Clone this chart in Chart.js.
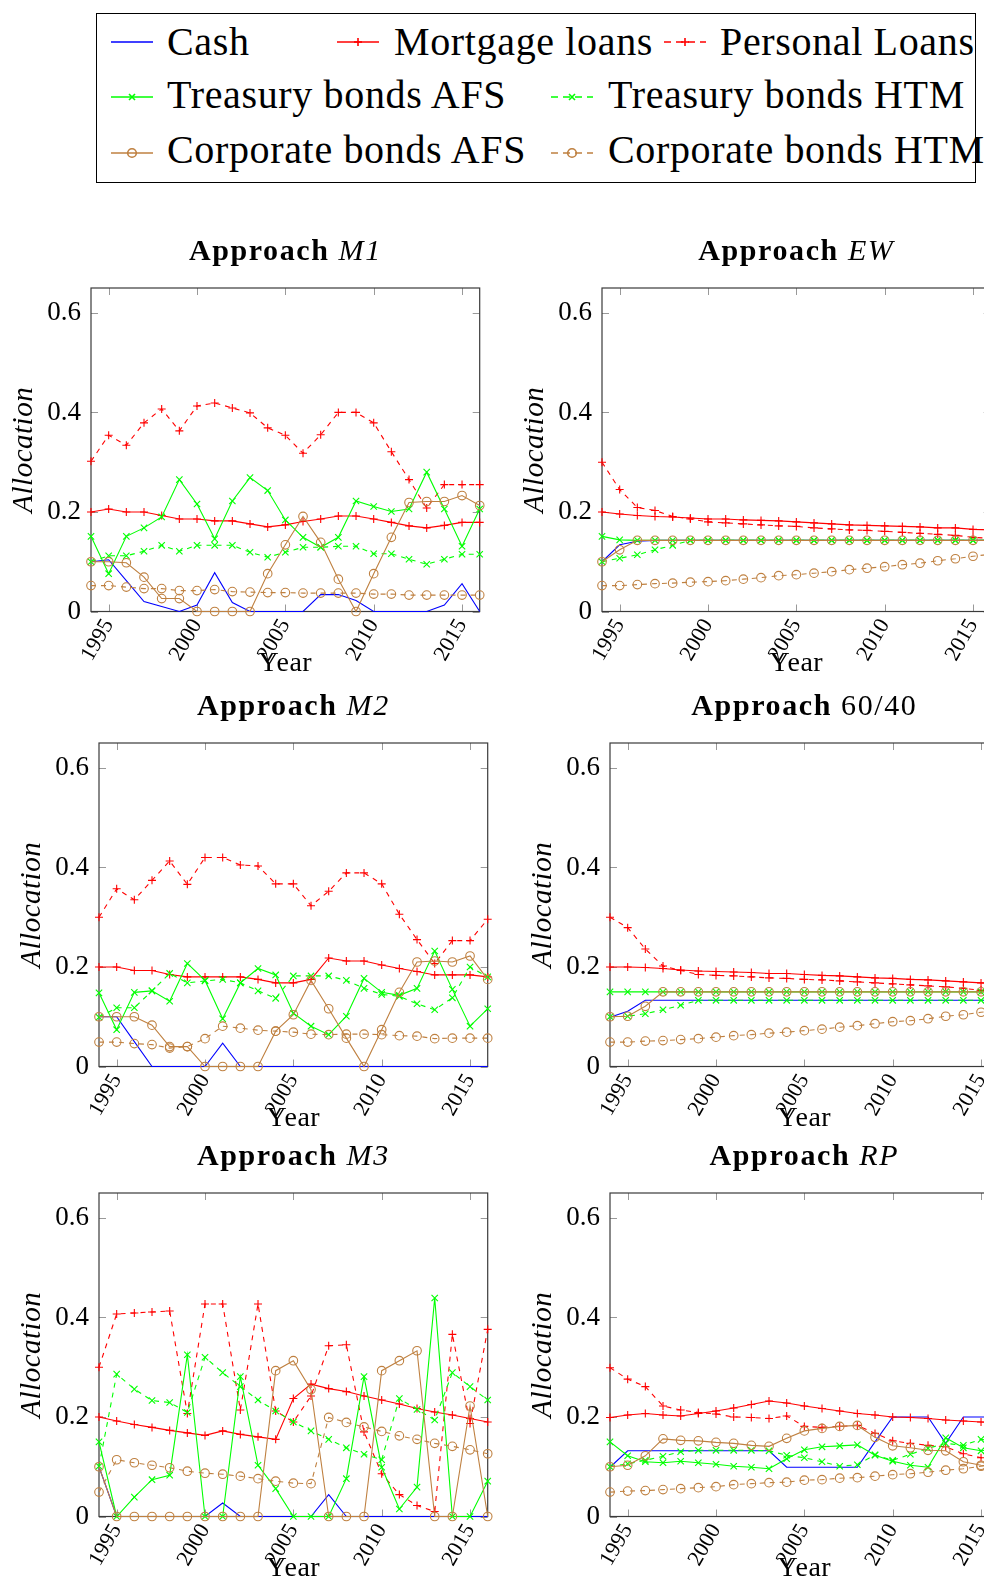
<!DOCTYPE html>
<html><head><meta charset="utf-8">
<script src="https://cdn.jsdelivr.net/npm/chart.js@4.4.0/dist/chart.umd.min.js"></script>
<style>
html,body{margin:0;padding:0;overflow:hidden;background:#fff;}
#page{position:relative;width:984px;height:1578px;overflow:hidden;background:#fff;}
#page canvas{position:absolute;}
.lt{position:absolute;white-space:nowrap;line-height:40px;height:40px;font-family:'Liberation Serif','Times New Roman',serif;font-size:40px;letter-spacing:0.65px;color:#000;}
.ls{position:absolute;}
#lbox{position:absolute;left:96px;top:13px;width:880px;height:170px;border:1.5px solid #000;box-sizing:border-box;}
</style></head>
<body><div id="page"><div id="lbox"></div></div>
<script>
// ---------- data ----------
const years = [1994,1995,1996,1997,1998,1999,2000,2001,2002,2003,2004,2005,2006,2007,2008,2009,2010,2011,2012,2013,2014,2015,2016];
const xTickValues = [1995,2000,2005,2010,2015];
const yTickValues = [0,0.2,0.4,0.6];
const seriesNames = ['Cash','Mortgage loans','Personal Loans','Treasury bonds AFS','Treasury bonds HTM','Corporate bonds AFS','Corporate bonds HTM'];
const panelTitles = ['M1','EW','M2','60/40','M3','RP'];

// Approach M1
const m1Cash      = [0.100,0.104,0.062,0.020,0.010,0.000,0.013,0.078,0.018,0.000,0.000,0.000,0.000,0.034,0.034,0.022,0.000,0.000,0.000,0.000,0.013,0.056,0.000];
const m1Mortgage  = [0.200,0.206,0.200,0.200,0.193,0.186,0.186,0.182,0.182,0.176,0.170,0.174,0.181,0.186,0.192,0.192,0.186,0.179,0.172,0.168,0.173,0.179,0.179];
const m1Personal  = [0.302,0.354,0.334,0.379,0.407,0.363,0.413,0.419,0.409,0.399,0.369,0.354,0.318,0.355,0.400,0.400,0.379,0.321,0.265,0.208,0.255,0.255,0.255];
const m1TreasAFS  = [0.151,0.076,0.151,0.168,0.190,0.265,0.216,0.146,0.222,0.269,0.243,0.184,0.149,0.129,0.149,0.222,0.211,0.201,0.206,0.280,0.206,0.131,0.206];
const m1TreasHTM  = [0.100,0.112,0.112,0.121,0.133,0.121,0.133,0.133,0.133,0.119,0.109,0.119,0.129,0.129,0.131,0.131,0.116,0.116,0.105,0.095,0.105,0.115,0.115];
const m1CorpAFS   = [0.100,0.100,0.098,0.069,0.026,0.026,0.000,0.000,0.000,0.000,0.076,0.134,0.191,0.139,0.065,0.000,0.076,0.149,0.219,0.221,0.221,0.233,0.213];
const m1CorpHTM   = [0.052,0.052,0.049,0.046,0.046,0.042,0.042,0.044,0.040,0.039,0.038,0.038,0.037,0.037,0.037,0.037,0.035,0.035,0.033,0.033,0.033,0.033,0.033];

// Approach EW
const ewCash      = [0.100,0.134,0.141,0.143,0.143,0.143,0.143,0.143,0.143,0.143,0.143,0.143,0.143,0.143,0.143,0.143,0.143,0.143,0.143,0.143,0.143,0.143,0.143];
const ewMortgage  = [0.200,0.196,0.193,0.191,0.190,0.188,0.186,0.186,0.184,0.183,0.182,0.180,0.178,0.176,0.174,0.173,0.172,0.171,0.170,0.168,0.168,0.165,0.164];
const ewPersonal  = [0.300,0.245,0.209,0.203,0.191,0.186,0.180,0.178,0.176,0.174,0.172,0.171,0.168,0.166,0.164,0.163,0.161,0.159,0.157,0.155,0.153,0.149,0.147];
const ewTreasAFS  = [0.151,0.144,0.143,0.143,0.143,0.143,0.143,0.143,0.143,0.143,0.143,0.143,0.143,0.143,0.143,0.143,0.143,0.143,0.143,0.143,0.143,0.143,0.143];
const ewTreasHTM  = [0.100,0.107,0.114,0.124,0.133,0.143,0.143,0.143,0.143,0.143,0.143,0.143,0.143,0.143,0.143,0.143,0.143,0.143,0.143,0.143,0.143,0.143,0.143];
const ewCorpAFS   = [0.100,0.124,0.143,0.143,0.143,0.143,0.143,0.143,0.143,0.143,0.143,0.143,0.143,0.143,0.143,0.143,0.143,0.143,0.143,0.143,0.143,0.143,0.143];
const ewCorpHTM   = [0.052,0.052,0.054,0.056,0.057,0.059,0.060,0.062,0.065,0.068,0.072,0.074,0.077,0.080,0.084,0.087,0.090,0.094,0.097,0.102,0.106,0.111,0.115];

// Approach M2
const m2Cash      = [0.100,0.100,0.050,0.000,0.000,0.000,0.000,0.047,0.000,0.000,0.000,0.000,0.000,0.000,0.000,0.000,0.000,0.000,0.000,0.000,0.000,0.000,0.000];
const m2Mortgage  = [0.200,0.200,0.193,0.193,0.185,0.180,0.180,0.180,0.180,0.175,0.168,0.168,0.175,0.218,0.212,0.212,0.204,0.197,0.191,0.184,0.184,0.184,0.180];
const m2Personal  = [0.300,0.357,0.335,0.374,0.413,0.366,0.420,0.420,0.405,0.403,0.367,0.367,0.323,0.352,0.389,0.389,0.367,0.306,0.255,0.207,0.253,0.253,0.296];
const m2TreasAFS  = [0.148,0.074,0.149,0.152,0.131,0.207,0.173,0.096,0.168,0.197,0.184,0.107,0.081,0.064,0.101,0.177,0.149,0.143,0.157,0.232,0.155,0.081,0.116];
const m2TreasHTM  = [0.099,0.118,0.118,0.152,0.187,0.168,0.172,0.175,0.168,0.152,0.137,0.182,0.182,0.182,0.173,0.157,0.145,0.141,0.126,0.114,0.138,0.200,0.180];
const m2CorpAFS   = [0.100,0.100,0.100,0.083,0.040,0.040,0.000,0.000,0.000,0.000,0.071,0.104,0.173,0.116,0.057,0.000,0.074,0.149,0.210,0.212,0.210,0.222,0.175];
const m2CorpHTM   = [0.049,0.049,0.046,0.044,0.037,0.040,0.056,0.081,0.077,0.073,0.071,0.069,0.065,0.064,0.065,0.065,0.064,0.062,0.061,0.056,0.057,0.057,0.057];

// Approach 60/40
const s64Cash     = [0.099,0.111,0.133,0.133,0.133,0.133,0.133,0.133,0.133,0.133,0.133,0.133,0.133,0.133,0.133,0.133,0.133,0.133,0.133,0.133,0.133,0.133,0.133];
const s64Mortgage = [0.200,0.200,0.199,0.197,0.194,0.192,0.191,0.190,0.189,0.187,0.187,0.185,0.183,0.182,0.180,0.178,0.177,0.175,0.174,0.172,0.170,0.168,0.166];
const s64Personal = [0.300,0.279,0.236,0.202,0.193,0.185,0.183,0.182,0.180,0.178,0.177,0.175,0.174,0.172,0.170,0.168,0.166,0.164,0.162,0.160,0.157,0.153,0.150];
const s64TreasAFS = [0.150,0.150,0.150,0.150,0.150,0.150,0.150,0.150,0.150,0.150,0.150,0.150,0.150,0.150,0.150,0.150,0.150,0.150,0.150,0.150,0.150,0.150,0.150];
const s64TreasHTM = [0.100,0.101,0.106,0.114,0.123,0.133,0.133,0.133,0.133,0.133,0.133,0.133,0.133,0.133,0.133,0.133,0.133,0.133,0.133,0.133,0.133,0.133,0.133];
const s64CorpAFS  = [0.100,0.101,0.121,0.150,0.150,0.150,0.150,0.150,0.150,0.150,0.150,0.150,0.150,0.150,0.150,0.150,0.150,0.150,0.150,0.150,0.150,0.150,0.150];
const s64CorpHTM  = [0.049,0.049,0.051,0.052,0.054,0.056,0.059,0.062,0.064,0.067,0.069,0.072,0.075,0.079,0.082,0.086,0.090,0.092,0.096,0.101,0.104,0.109,0.113];

// Approach M3
const m3Cash      = [0.100,0.000,0.000,0.000,0.000,0.000,0.000,0.027,0.000,0.000,0.000,0.000,0.000,0.044,0.000,0.000,0.000,0.000,0.000,0.000,0.000,0.000,0.000];
const m3Mortgage  = [0.200,0.192,0.185,0.179,0.173,0.168,0.163,0.172,0.165,0.160,0.155,0.237,0.266,0.257,0.251,0.242,0.234,0.226,0.217,0.210,0.204,0.197,0.190];
const m3Personal  = [0.300,0.407,0.409,0.411,0.413,0.207,0.427,0.427,0.214,0.427,0.212,0.190,0.242,0.343,0.345,0.170,0.086,0.044,0.022,0.010,0.366,0.187,0.376];
const m3TreasAFS  = [0.150,0.000,0.039,0.074,0.083,0.325,0.000,0.000,0.281,0.103,0.056,0.000,0.000,0.000,0.076,0.281,0.099,0.015,0.059,0.439,0.000,0.000,0.071];
const m3TreasHTM  = [0.101,0.286,0.256,0.233,0.229,0.209,0.320,0.289,0.261,0.234,0.212,0.190,0.172,0.155,0.138,0.125,0.114,0.237,0.215,0.194,0.289,0.261,0.234];
const m3CorpAFS   = [0.100,0.000,0.000,0.000,0.000,0.000,0.000,0.000,0.000,0.000,0.293,0.313,0.255,0.000,0.000,0.000,0.293,0.313,0.333,0.000,0.000,0.222,0.000];
const m3CorpHTM   = [0.049,0.114,0.108,0.103,0.098,0.091,0.087,0.085,0.081,0.076,0.071,0.067,0.066,0.199,0.189,0.180,0.171,0.162,0.155,0.147,0.141,0.134,0.126];

// Approach RP
const rpCash      = [0.099,0.132,0.132,0.132,0.132,0.132,0.132,0.132,0.132,0.132,0.099,0.099,0.099,0.099,0.099,0.150,0.200,0.200,0.200,0.147,0.200,0.200,0.200];
const rpMortgage  = [0.199,0.204,0.207,0.204,0.202,0.207,0.212,0.218,0.225,0.232,0.228,0.222,0.217,0.212,0.207,0.204,0.200,0.199,0.197,0.194,0.192,0.190,0.188];
const rpPersonal  = [0.299,0.276,0.261,0.222,0.214,0.209,0.206,0.200,0.199,0.197,0.202,0.181,0.179,0.181,0.183,0.167,0.152,0.147,0.143,0.140,0.126,0.118,0.115];
const rpTreasAFS  = [0.150,0.122,0.110,0.108,0.111,0.108,0.105,0.101,0.099,0.096,0.116,0.134,0.140,0.142,0.144,0.123,0.111,0.103,0.099,0.158,0.138,0.132,0.135];
const rpTreasHTM  = [0.100,0.106,0.113,0.121,0.130,0.133,0.133,0.133,0.133,0.132,0.123,0.118,0.110,0.101,0.104,0.124,0.113,0.125,0.137,0.147,0.143,0.155,0.150];
const rpCorpAFS   = [0.100,0.103,0.122,0.156,0.153,0.152,0.149,0.147,0.143,0.141,0.157,0.172,0.177,0.181,0.183,0.159,0.142,0.138,0.133,0.132,0.110,0.103,0.100];
const rpCorpHTM   = [0.049,0.051,0.052,0.054,0.056,0.058,0.060,0.064,0.066,0.068,0.069,0.073,0.074,0.077,0.078,0.081,0.084,0.086,0.089,0.093,0.096,0.101,0.104];

// ---------- styles & layout ----------
const FONT = "'Liberation Serif','Times New Roman',serif";
Chart.defaults.font.family = FONT;
Chart.defaults.color = '#000';

const STY = [
  {color:'#0000ff', dash:[],    point:false,      radius:0},
  {color:'#ff0000', dash:[],    point:'cross',    radius:4},
  {color:'#ff0000', dash:[5,5], point:'cross',    radius:4},
  {color:'#00ff00', dash:[],    point:'crossRot', radius:4.5},
  {color:'#00ff00', dash:[5,5], point:'crossRot', radius:4.5},
  {color:'#bf8040', dash:[],    point:'circle',   radius:4.3},
  {color:'#bf8040', dash:[5,5], point:'circle',   radius:4.3}
];

const panels = [
  {sub:panelTitles[0], italic:true,  left:91,  top:288, vals:[m1Cash,m1Mortgage,m1Personal,m1TreasAFS,m1TreasHTM,m1CorpAFS,m1CorpHTM]},
  {sub:panelTitles[1], italic:true,  left:602, top:288, vals:[ewCash,ewMortgage,ewPersonal,ewTreasAFS,ewTreasHTM,ewCorpAFS,ewCorpHTM]},
  {sub:panelTitles[2], italic:true,  left:99,  top:743, vals:[m2Cash,m2Mortgage,m2Personal,m2TreasAFS,m2TreasHTM,m2CorpAFS,m2CorpHTM]},
  {sub:panelTitles[3], italic:false, left:610, top:743, vals:[s64Cash,s64Mortgage,s64Personal,s64TreasAFS,s64TreasHTM,s64CorpAFS,s64CorpHTM]},
  {sub:panelTitles[4], italic:true,  left:99,  top:1193,vals:[m3Cash,m3Mortgage,m3Personal,m3TreasAFS,m3TreasHTM,m3CorpAFS,m3CorpHTM]},
  {sub:panelTitles[5], italic:true,  left:610, top:1193,vals:[rpCash,rpMortgage,rpPersonal,rpTreasAFS,rpTreasHTM,rpCorpAFS,rpCorpHTM]}
];

const framePlugin = {
  id:'frame',
  beforeDatasetsDraw(chart){
    const {ctx, chartArea:a, scales:{x,y}} = chart;
    ctx.save();
    ctx.strokeStyle = '#999'; ctx.lineWidth = 1;
    ctx.beginPath();
    xTickValues.forEach(v=>{
      const px = Math.round(x.getPixelForValue(v))+0.5;
      ctx.moveTo(px,a.bottom); ctx.lineTo(px,a.bottom-7);
      ctx.moveTo(px,a.top); ctx.lineTo(px,a.top+7);
    });
    yTickValues.forEach(v=>{
      const py = Math.round(y.getPixelForValue(v))+0.5;
      ctx.moveTo(a.left,py); ctx.lineTo(a.left+7,py);
      ctx.moveTo(a.right,py); ctx.lineTo(a.right-7,py);
    });
    ctx.stroke();
    ctx.strokeStyle = '#3a3a3a'; ctx.lineWidth = 1.2;
    ctx.strokeRect(a.left, a.top, a.right-a.left, a.bottom-a.top);
    ctx.restore();
  },
  afterDraw(chart, args, opts){
    const {ctx, chartArea:a} = chart;
    ctx.save();
    ctx.fillStyle = '#000';
    // title
    ctx.textBaseline = 'alphabetic';
    ctx.textAlign = 'left';
    if ('letterSpacing' in ctx) ctx.letterSpacing = '1.6px';
    const f1 = "bold 30px " + FONT;
    const f2 = (opts.italic ? "italic " : "") + "30px " + FONT;
    ctx.font = f1; const w1 = ctx.measureText('Approach ').width;
    ctx.font = f2; const w2 = ctx.measureText(opts.sub).width;
    const cx = (a.left + a.right)/2;
    const tx = cx - (w1+w2)/2, ty = a.top - 28;
    ctx.font = f1; ctx.fillText('Approach ', tx, ty);
    ctx.font = f2; ctx.fillText(opts.sub, tx + w1, ty);
    if ('letterSpacing' in ctx) ctx.letterSpacing = '0.5px';
    // x label
    ctx.font = "28px " + FONT; ctx.textAlign = 'center';
    ctx.fillText('Year', cx, a.bottom + 59);
    // y label
    ctx.translate(a.left - 59, (a.top + a.bottom)/2);
    ctx.rotate(-Math.PI/2);
    ctx.font = "italic 29px " + FONT;
    ctx.fillText('Allocation', 0, 0);
    ctx.restore();
  }
};

const page = document.getElementById('page');
const W = 520, PT = 60, YW = 100, plotW = 388.7, plotH = 323.5, XH = 76.5;
const H = PT + plotH + XH;
const PR = W - YW - plotW;

panels.forEach(p => {
  const cv = document.createElement('canvas');
  cv.width = W; cv.height = H;
  cv.style.width = W + 'px'; cv.style.height = H + 'px';
  cv.style.left = (p.left - YW) + 'px'; cv.style.top = (p.top - PT) + 'px';
  page.appendChild(cv);
  const datasets = p.vals.map((vals, i) => {
    const s = STY[i];
    return {
      label: seriesNames[i],
      data: years.map((yr, j) => ({x: yr, y: vals[j]})),
      borderColor: s.color, backgroundColor: 'rgba(0,0,0,0)',
      borderWidth: 1.1, borderDash: s.dash,
      pointStyle: s.point || 'circle', pointRadius: s.radius,
      pointBorderColor: s.color, pointBackgroundColor: 'rgba(0,0,0,0)',
      pointBorderWidth: 1.1,
      tension: 0, fill: false, clip: false, order: 7 - i
    };
  });
  new Chart(cv, {
    type: 'line',
    data: {datasets},
    options: {
      responsive: false, animation: false, devicePixelRatio: 1, events: [],
      layout: {padding: {top: PT, right: PR, left: 0, bottom: 0}},
      plugins: {legend: {display: false}, tooltip: {enabled: false},
                frame: {sub: p.sub, italic: p.italic}},
      scales: {
        x: {type: 'linear', min: 1994, max: 2016,
            grid: {display: false, drawTicks: false}, border: {display: false},
            afterBuildTicks: s => { s.ticks = xTickValues.map(v => ({value: v})); },
            afterFit: s => { s.height = XH; },
            ticks: {callback: v => String(v), minRotation: 60, maxRotation: 60, autoSkip: false,
                    padding: 3, font: {size: 22}, color: '#000'}},
        y: {type: 'linear', min: 0, max: 0.65,
            grid: {display: false, drawTicks: false}, border: {display: false},
            afterBuildTicks: s => { s.ticks = yTickValues.map(v => ({value: v})); },
            afterFit: s => { s.width = YW; },
            ticks: {callback: v => (v === 0 ? '0' : v.toFixed(1)), padding: 10,
                    font: {size: 27}, color: '#000'}}
      }
    },
    plugins: [framePlugin]
  });
});

// ---------- legend ----------
const legendItems = [
  {i:0, lx:111, tx:167, row:0},
  {i:1, lx:337, tx:394, row:0},
  {i:2, lx:664, tx:720, row:0},
  {i:3, lx:111, tx:167, row:1},
  {i:4, lx:551, tx:608, row:1},
  {i:5, lx:111, tx:167, row:2},
  {i:6, lx:551, tx:608, row:2}
];
const rowBase = [55, 108.5, 163.5];
const rowMid = [41.7, 97, 153];
const NS = 'http://www.w3.org/2000/svg';
legendItems.forEach(it => {
  const s = STY[it.i];
  const t = document.createElement('div');
  t.className = 'lt';
  t.textContent = seriesNames[it.i];
  t.style.left = it.tx + 'px';
  t.style.top = (rowBase[it.row] - 33.5) + 'px';
  page.appendChild(t);
  const svg = document.createElementNS(NS, 'svg');
  svg.setAttribute('width', 44); svg.setAttribute('height', 20);
  svg.setAttribute('class', 'ls');
  svg.style.left = it.lx + 'px'; svg.style.top = (rowMid[it.row] - 10) + 'px';
  const ln = document.createElementNS(NS, 'line');
  ln.setAttribute('x1', 0); ln.setAttribute('x2', 42); ln.setAttribute('y1', 10); ln.setAttribute('y2', 10);
  ln.setAttribute('stroke', s.color); ln.setAttribute('stroke-width', 1.6);
  if (s.dash.length) ln.setAttribute('stroke-dasharray', '7 5');
  svg.appendChild(ln);
  const mk = (x1,y1,x2,y2) => { const l = document.createElementNS(NS,'line');
    l.setAttribute('x1',x1);l.setAttribute('y1',y1);l.setAttribute('x2',x2);l.setAttribute('y2',y2);
    l.setAttribute('stroke', s.color); l.setAttribute('stroke-width', 1.6); svg.appendChild(l); };
  if (s.point === 'cross') { mk(21,6,21,14); mk(17,10,25,10); }
  else if (s.point === 'crossRot') { mk(18,7,24,13); mk(18,13,24,7); }
  else if (s.point === 'circle') { const c = document.createElementNS(NS,'circle');
    c.setAttribute('cx',21); c.setAttribute('cy',10); c.setAttribute('r',4.3);
    c.setAttribute('fill','none'); c.setAttribute('stroke', s.color); c.setAttribute('stroke-width',1.6); svg.appendChild(c); }
  page.appendChild(svg);
});
</script>
</body></html>
